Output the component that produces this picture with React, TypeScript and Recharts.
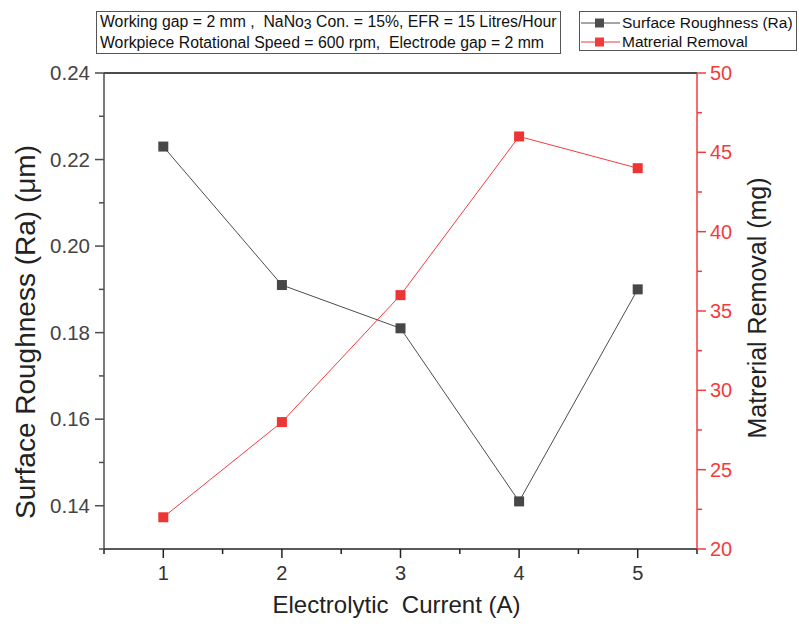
import React from 'react';
import { LineChart, Line, XAxis, YAxis, ReferenceLine, Legend } from 'recharts';

const currents = [1, 2, 3, 4, 5];
const roughness = [0.223, 0.191, 0.181, 0.141, 0.19];
const removal = [22, 28, 36, 46, 44];

const xTicks = [0.5, 1, 1.5, 2, 2.5, 3, 3.5, 4, 4.5, 5, 5.5];
const leftTicks = [0.13, 0.14, 0.15, 0.16, 0.17, 0.18, 0.19, 0.2, 0.21, 0.22, 0.23, 0.24];
const rightTicks = [20, 22.5, 25, 27.5, 30, 32.5, 35, 37.5, 40, 42.5, 45, 47.5, 50];

const data = currents.map((c, i) => ({ x: c, sr: roughness[i], mr: removal[i] }));

const GRAY = '#4d4d4d';
const RED = '#f23c3c';
const FONT = '"Liberation Sans", Arial, sans-serif';

const SquareDot = (color: string) => (props: any) => {
  const { cx, cy } = props;
  if (cx == null || cy == null) return null;
  return <rect x={cx - 5} y={cy - 5} width={10} height={10} fill={color} />;
};

const BottomTick = (props: any) => {
  const { x, y, payload } = props;
  const major = Number.isInteger(payload.value);
  return (
    <g>
      <line x1={x} y1={y} x2={x} y2={y + (major ? 9 : 5)} stroke="#222" strokeWidth={1.5} />
      {major && (
        <text x={x} y={y + 31} textAnchor="middle" fontSize={20} fill="#333" fontFamily={FONT}>
          {payload.value}
        </text>
      )}
    </g>
  );
};

const LeftTick = (props: any) => {
  const { x, y, payload } = props;
  const major = Math.round(payload.value * 100) % 2 === 0;
  return (
    <g>
      <line x1={x} y1={y} x2={x - (major ? 9 : 5)} y2={y} stroke={GRAY} strokeWidth={1.5} />
      {major && (
        <text x={x - 14} y={y + 7} textAnchor="end" fontSize={20.5} fill="#444" fontFamily={FONT}>
          {payload.value.toFixed(2)}
        </text>
      )}
    </g>
  );
};

const RightTick = (props: any) => {
  const { x, y, payload } = props;
  const major = payload.value % 5 === 0;
  return (
    <g>
      <line x1={x} y1={y} x2={x + (major ? 9 : 5)} y2={y} stroke={RED} strokeWidth={1.5} />
      {major && (
        <text x={x + 13} y={y + 7} textAnchor="start" fontSize={20} fill={RED} fontFamily={FONT}>
          {payload.value}
        </text>
      )}
    </g>
  );
};

const SeriesLegend = () => (
  <div
    style={{
      border: '1px solid #555',
      width: 218,
      height: 40,
      boxSizing: 'border-box',
      padding: '1px 0',
      fontFamily: FONT,
      fontSize: 15.5,
      color: '#111',
      background: '#fff',
    }}
  >
    {[
      { name: 'Surface Roughness (Ra)', color: GRAY },
      { name: 'Matrerial Removal', color: RED },
    ].map((s) => (
      <div key={s.name} style={{ display: 'flex', alignItems: 'center', height: 19 }}>
        <svg width={41} height={12} style={{ marginLeft: 1 }}>
          <line x1={0} y1={6} x2={39} y2={6} stroke={s.color} strokeWidth={1} />
          <rect x={14} y={1.5} width={9} height={9} fill={s.color} />
        </svg>
        <span>{s.name}</span>
      </div>
    ))}
  </div>
);

export default function App() {
  return (
    <div style={{ position: 'absolute', left: 0, top: 0, width: 799, height: 627, background: '#fff' }}>
      <div
        style={{
          position: 'absolute',
          left: 96,
          top: 11,
          width: 465,
          height: 43,
          border: '1px solid #555',
          fontFamily: FONT,
          fontSize: 15.8,
          color: '#111',
          lineHeight: '20.5px',
          paddingLeft: 3,
          boxSizing: 'border-box',
          zIndex: 2,
          background: '#fff',
        }}
      >
        <div style={{ whiteSpace: 'nowrap' }}>
          Working gap = 2 mm ,&nbsp; NaNo<span style={{ fontSize: 14, position: 'relative', top: 2 }}>3</span> Con. = 15%, EFR = 15 Litres/Hour
        </div>
        <div style={{ whiteSpace: 'nowrap' }}>Workpiece Rotational Speed = 600 rpm,&nbsp; Electrode gap = 2 mm</div>
      </div>
      <LineChart width={799} height={627} data={data} margin={{ top: 73, right: 0, bottom: 0, left: 0 }}>
        <XAxis
          dataKey="x"
          type="number"
          domain={[0.5, 5.5]}
          ticks={xTicks}
          interval={0}
          height={78}
          tickSize={0}
          tickMargin={0}
          tick={BottomTick}
          axisLine={{ stroke: '#222', strokeWidth: 1.5 }}
          label={(p: any) => (
            <text
              x={p.viewBox.x + p.viewBox.width / 2 - 4}
              y={p.viewBox.y + 64}
              textAnchor="middle"
              fontSize={24}
              fill="#222"
              fontFamily={FONT}
              style={{ whiteSpace: 'pre' }}
            >
              {'Electrolytic  Current (A)'}
            </text>
          )}
        />
        <YAxis
          yAxisId="left"
          type="number"
          domain={[0.13, 0.24]}
          ticks={leftTicks}
          interval={0}
          width={104}
          tickSize={0}
          tickMargin={0}
          tick={LeftTick}
          axisLine={{ stroke: GRAY, strokeWidth: 1.5 }}
          label={(p: any) => {
            const cx = p.viewBox.x + 25;
            const cy = p.viewBox.y + p.viewBox.height / 2 + 21;
            return (
              <text
                x={cx}
                y={cy}
                transform={`rotate(-90 ${cx} ${cy})`}
                textAnchor="middle"
                dominantBaseline="central"
                fontSize={28}
                fill="#222"
                fontFamily={FONT}
              >
                Surface Roughness (Ra) (μm)
              </text>
            );
          }}
        />
        <YAxis
          yAxisId="right"
          orientation="right"
          type="number"
          domain={[20, 50]}
          ticks={rightTicks}
          interval={0}
          width={102}
          tickSize={0}
          tickMargin={0}
          tick={RightTick}
          axisLine={{ stroke: RED, strokeWidth: 1.5 }}
          label={(p: any) => {
            const cx = p.viewBox.x + 60;
            const cy = p.viewBox.y + p.viewBox.height / 2 - 3;
            return (
              <text
                x={cx}
                y={cy}
                transform={`rotate(-90 ${cx} ${cy})`}
                textAnchor="middle"
                dominantBaseline="central"
                fontSize={25}
                fill="#222"
                fontFamily={FONT}
              >
                Matrerial Removal (mg)
              </text>
            );
          }}
        />
        <ReferenceLine yAxisId="left" y={0.24} stroke="#111" strokeWidth={1.5} />
        <Line
          yAxisId="left"
          dataKey="sr"
          name="Surface Roughness (Ra)"
          stroke={GRAY}
          strokeWidth={1}
          dot={SquareDot('#474747')}
          activeDot={false}
          isAnimationActive={false}
        />
        <Line
          yAxisId="right"
          dataKey="mr"
          name="Matrerial Removal"
          stroke={RED}
          strokeWidth={1}
          dot={SquareDot('#ee3535')}
          activeDot={false}
          isAnimationActive={false}
        />
        <Legend
          layout="horizontal"
          verticalAlign="middle"
          align="center"
          content={SeriesLegend}
          wrapperStyle={{ position: 'absolute', left: 579, top: 11, width: 218, height: 40 }}
        />
      </LineChart>
    </div>
  );
}
